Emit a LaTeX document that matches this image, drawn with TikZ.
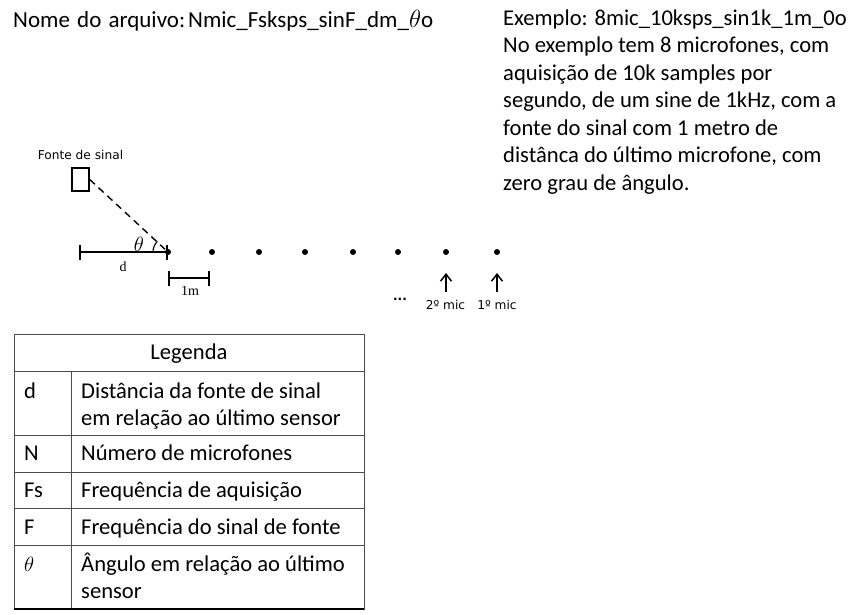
\documentclass[tikz,border=0pt]{standalone}
\usepackage{amsmath}
\usepackage{fontspec}
\setmainfont{Carlito}
\newfontfamily\smallsans{DejaVu Sans}
\newfontfamily\smallserif{Liberation Serif}
\usetikzlibrary{positioning,arrows.meta}
\tikzset{
    txt/.style={inner sep=0pt,anchor=base west,font=\fontsize{22.6}{22.6}\selectfont},
    mic/.style={circle,fill=black,inner sep=0pt,minimum size=6pt},
    tag/.style={inner sep=0pt,anchor=base,font=\smallsans\fontsize{12.2}{12.2}\selectfont},
    note/.style={inner sep=0pt,anchor=base,font=\smallserif\fontsize{14}{14}\selectfont},
    tab/.style={line width=1pt,draw=black!70},
    bar/.style={line width=1.4pt},
    upa/.style={-{Straight Barb[length=7pt,width=11pt]},line width=1.5pt},
}
\begin{document}
\begin{tikzpicture}[%
    >=stealth,
    x=1pt,
    y=-1pt
    ]
    \useasboundingbox (0,0) rectangle (868,614);

    % top texts
    \node[txt,font=\fontsize{23}{23}\selectfont] (name) at (13,27) {Nome\hspace{2pt} do\hspace{2pt} arquivo:\hspace{3pt}Nmic\_Fsksps\_sinF\_dm\_$\theta$o};
    \node[txt] (ex1) at (503,25) {Exemplo: 8mic\_10ksps\_sin1k\_1m\_0o};
    \node[txt] (ex2) at (503,52.5) {No exemplo tem 8 microfones, com};
    \node[txt] (ex3) at (503,80) {aquisição de 10k samples por};
    \node[txt] (ex4) at (503,107.5) {segundo, de um sine de 1kHz, com a};
    \node[txt] (ex5) at (503,135) {fonte do sinal com 1 metro de};
    \node[txt] (ex6) at (503,162.5) {distânca do último microfone, com};
    \node[txt] (ex7) at (503,190) {zero grau de ângulo.};

    % mics
    \foreach \i/\x in {1/168,2/212,3/259,4/305,5/353,6/398,7/446,8/497}
        \node[mic] (m\i) at (\x,252) {};

    % source and distance
    \node[tag] (fonte) at (80.5,159) {Fonte de sinal};
    \node[draw,bar,inner sep=0pt,minimum width=17pt,minimum height=23pt] (src) at (80.5,179.5) {};
    \coordinate (dstart) at (80,252);
    \draw[bar] (dstart) -- (m1.center);
    \draw[bar] (80,245) -- (80,260);
    \draw[bar] (167,245) -- (167,260);
    \draw[bar,dash pattern=on 7pt off 5pt,shorten >=4pt] (src.east) -- (m1.center);
    \draw[line width=1.1pt] (153,252) arc[start angle=180,end angle=225,radius=15];
    \node[inner sep=0pt,font=\fontsize{20}{20}\selectfont] (ang) at (139,244) {$\theta$};
    \node[note] (dlab) at (123,271) {d};

    % scale
    \coordinate (sa) at (169,278);
    \coordinate (sb) at (209,278);
    \draw[bar] (sa) -- (sb);
    \draw[bar] (169,271) -- (169,286);
    \draw[bar] (209,271) -- (209,286);
    \node[note] (um) at (190,295) {1m};

    % arrows
    \node[tag,font=\smallsans\bfseries\fontsize{12.2}{12.2}\selectfont] (dots) at (400,300) {...};
    \node[tag] (mic2) at (445.5,309) {2º mic};
    \node[tag] (mic1) at (497,309) {1º mic};
    \coordinate (a2) at (446,292);
    \coordinate (a1) at (497,292);
    \draw[upa] (a2) -- (446,273);
    \draw[upa] (a1) -- (497,273);

    % table
    \draw[tab] (14,334) rectangle (364,609);
    \foreach \y in {371,435,472,508,545}
        \draw[tab] (14,\y) -- (364,\y);
    \draw[tab] (71,371) -- (71,609);
    \draw[line width=1.2pt] (14,609) -- (364,609);
    \node[txt,anchor=base] (leg) at (189,359) {Legenda};
    \node[txt] (k1) at (24,398) {d};
    \node[txt] (v1a) at (81,398) {Distância da fonte de sinal};
    \node[txt] (v1b) at (81,425) {em relação ao último sensor};
    \node[txt] (k2) at (24,460) {N};
    \node[txt] (v2) at (81,460) {Número de microfones};
    \node[txt] (k3) at (24,497) {Fs};
    \node[txt] (v3) at (81,497) {Frequência de aquisição};
    \node[txt] (k4) at (24,534) {F};
    \node[txt] (v4) at (81,534) {Frequência do sinal de fonte};
    \node[txt] (k5) at (24,571) {$\theta$};
    \node[txt] (v5a) at (81,571) {Ângulo em relação ao último};
    \node[txt] (v5b) at (81,598) {sensor};

\end{tikzpicture}
\end{document}
